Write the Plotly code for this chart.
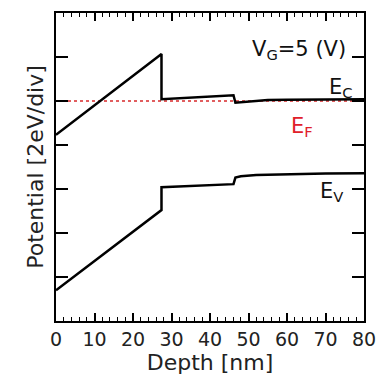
import plotly.graph_objects as go

# Data (depth in nm, potential in divisions of 2 eV)
ec_x = [0, 27.4, 27.4, 46.1, 46.6, 50, 55, 60, 70, 80]
ec_y = [4.23, 6.07, 5.04, 5.13, 4.96, 4.99, 5.02, 5.03, 5.04, 5.04]
ev_x = [0, 27.4, 27.4, 46.1, 46.6, 48, 52, 60, 70, 80]
ev_y = [0.70, 2.52, 3.04, 3.11, 3.26, 3.29, 3.32, 3.34, 3.35, 3.36]
ef_x = [0, 80]
ef_y = [5.0, 5.0]
x_ticks = [0, 10, 20, 30, 40, 50, 60, 70, 80]
y_ticks = [1, 2, 3, 4, 5, 6]

FONT = "DejaVu Sans, sans-serif"
L, R, T, B = 56, 16, 13, 57
W, H = 380, 378
PW, PH = W - L - R, H - T - B


def px_to_paper(px, py):
    return (px - L) / PW, (H - B - py) / PH


fig = go.Figure()
fig.add_trace(go.Scatter(x=ef_x, y=ef_y, mode="lines",
                         line=dict(color="#d8282a", width=1.5, dash="dot"),
                         showlegend=False))
fig.add_trace(go.Scatter(x=ec_x, y=ec_y, mode="lines",
                         line=dict(color="black", width=2.5),
                         showlegend=False))
fig.add_trace(go.Scatter(x=ev_x, y=ev_y, mode="lines",
                         line=dict(color="black", width=2.5),
                         showlegend=False))
# invisible trace to activate mirrored top/right axes
fig.add_trace(go.Scatter(x=ef_x, y=ef_y, mode="lines", xaxis="x2", yaxis="y2",
                         line=dict(width=0), opacity=0, hoverinfo="skip",
                         showlegend=False))

ann = [
    dict(x=299, y=50, text="V<sub>G</sub>=5 (V)", color="#111"),
    dict(x=341, y=88, text="E<sub>C</sub>", color="#111"),
    dict(x=302, y=127, text="E<sub>F</sub>", color="#e0202a"),
    dict(x=331, y=192, text="E<sub>V</sub>", color="#111"),
]
for a in ann:
    ax, ay = px_to_paper(a["x"], a["y"])
    fig.add_annotation(x=ax, y=ay, xref="paper", yref="paper",
                       text=a["text"], showarrow=False,
                       font=dict(family=FONT, size=21, color=a["color"]),
                       xanchor="center", yanchor="middle")

common_x = dict(range=[0, 80], tickvals=x_ticks,
                ticks="inside", ticklen=8, tickwidth=1.5, tickcolor="black",
                minor=dict(dtick=2, ticks="inside", ticklen=4, tickwidth=1, tickcolor="black"),
                showline=True, linecolor="black", linewidth=2,
                showgrid=False, zeroline=False)
common_y = dict(range=[0, 7], tickvals=y_ticks,
                ticks="inside", ticklen=12, tickwidth=1.5, tickcolor="black",
                showline=True, linecolor="black", linewidth=2,
                showgrid=False, zeroline=False)

fig.update_layout(
    width=W, height=H,
    margin=dict(l=L, r=R, t=T, b=B, autoexpand=False),
    paper_bgcolor="white", plot_bgcolor="white",
    font=dict(family=FONT, size=19, color="#222"),
    xaxis=dict(**common_x,
               title=dict(text="Depth [nm]", font=dict(size=22), standoff=5),
               tickfont=dict(size=19)),
    yaxis=dict(**common_y, showticklabels=False,
               title=dict(text="Potential [2eV/div]", font=dict(size=22), standoff=4)),
    xaxis2=dict(**common_x, overlaying="x", side="top", showticklabels=False),
    yaxis2=dict(**common_y, overlaying="y", side="right", showticklabels=False),
)

fig.write_html("out.html")
